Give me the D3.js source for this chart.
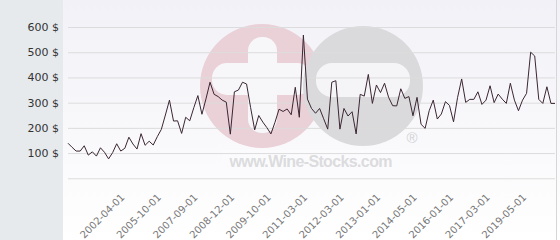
<!DOCTYPE html>
<html>
<head>
<meta charset="utf-8">
<script src="https://cdn.jsdelivr.net/npm/d3@7"></script>
<style>
  body { margin: 0; background: #fff; }
  svg { display: block; }
</style>
</head>
<body>
<svg width="560" height="240"></svg>
<script>
// price per point (121 points, unevenly dated)
const prices = [
  139, 123, 108, 108, 129, 92, 105, 88, 121, 103,
  77, 102, 137, 108, 119, 163, 136, 116, 177, 131,
  147, 132, 165, 194, 251, 310, 227, 228, 178, 242,
  228, 280, 328, 254, 315, 381, 333, 324, 310, 302,
  175, 343, 350, 381, 374, 280, 192, 249, 223, 201,
  176, 222, 274, 265, 275, 252, 361, 242, 568, 314,
  277, 258, 277, 236, 195, 381, 387, 195, 277, 247,
  264, 176, 333, 326, 412, 297, 370, 340, 377, 321,
  288, 287, 355, 317, 324, 248, 321, 214, 198, 268,
  310, 235, 255, 304, 289, 224, 321, 394, 301, 313,
  313, 343, 293, 310, 367, 300, 334, 314, 297, 377,
  310, 268, 310, 337, 500, 485, 313, 297, 363, 297,
  297
];

// x axis: labelled points
const tickIndex = [14, 23, 32, 41, 50, 59, 68, 77, 86, 95, 104, 113];
const tickLabels = [
  "2002-04-01", "2005-10-01", "2007-09-01", "2008-12-01",
  "2009-10-01", "2011-03-01", "2012-03-01", "2013-01-01",
  "2014-05-01", "2016-01-01", "2017-03-01", "2019-05-01"
];

const yTicks = [0, 100, 200, 300, 400, 500, 600];

const svg = d3.select("svg");

const plotLeft = 68, plotRight = 555, plotTop = 27, plotBottom = 178.3;

const x = d3.scaleLinear().domain([0, prices.length - 1]).range([plotLeft, plotRight]);
const y = d3.scaleLinear().domain([0, 600]).range([plotBottom, plotTop]);

const defs = svg.append("defs");
const grad = defs.append("linearGradient")
  .attr("id", "bg")
  .attr("x1", 0).attr("y1", 0).attr("x2", 0).attr("y2", 1);
grad.append("stop").attr("offset", "0%").attr("stop-color", "#f1f1f7");
grad.append("stop").attr("offset", "100%").attr("stop-color", "#ffffff");

// background
svg.append("rect")
  .attr("x", 0).attr("y", 0)
  .attr("width", 560).attr("height", 240)
  .attr("fill", "url(#bg)");

svg.append("rect")
  .attr("x", 0).attr("y", 0)
  .attr("width", 63).attr("height", 240)
  .attr("fill", "#e6eaed");

svg.append("line")
  .attr("x1", 556.5).attr("x2", 556.5)
  .attr("y1", 0).attr("y2", 240)
  .attr("stroke", "#d6d6d6");

// watermark
const wm = svg.append("g").attr("class", "watermark");

wm.append("circle")
  .attr("cx", 262).attr("cy", 86).attr("r", 62)
  .attr("fill", "#ead0d7");
wm.append("rect")
  .attr("x", 248).attr("y", 37)
  .attr("width", 29).attr("height", 96)
  .attr("rx", 14)
  .attr("fill", "#f7f7fa");
wm.append("rect")
  .attr("x", 212).attr("y", 63)
  .attr("width", 100).attr("height", 32)
  .attr("rx", 15)
  .attr("fill", "#f7f7fa");

wm.append("circle")
  .attr("cx", 363).attr("cy", 86).attr("r", 60)
  .attr("fill", "#dadadc");
wm.append("rect")
  .attr("x", 316).attr("y", 63)
  .attr("width", 94).attr("height", 34)
  .attr("rx", 16)
  .attr("fill", "#f5f5f8");

wm.append("rect")
  .attr("x", 222).attr("y", 150)
  .attr("width", 178).attr("height", 26)
  .attr("fill", "#fbfbfd");

wm.append("text")
  .attr("x", 311).attr("y", 167)
  .attr("text-anchor", "middle")
  .attr("textLength", 163)
  .attr("font-family", "Liberation Sans, Arial, sans-serif")
  .attr("font-weight", "bold")
  .attr("font-size", 16)
  .attr("fill", "#dcdcde")
  .text("www.Wine-Stocks.com");

wm.append("text")
  .attr("x", 412).attr("y", 143)
  .attr("text-anchor", "middle")
  .attr("font-family", "Liberation Sans, Arial, sans-serif")
  .attr("font-size", 15)
  .attr("fill", "#d2d2d4")
  .text("®");

// grid lines
const grid = svg.append("g")
  .attr("transform", `translate(${plotLeft},0)`)
  .call(d3.axisLeft(y).tickValues(yTicks).tickSize(-(plotRight - plotLeft)).tickFormat(""));
grid.select(".domain").remove();
grid.selectAll("line").attr("stroke", "#dcdcdc");

// y labels
const yAxis = svg.append("g")
  .attr("transform", "translate(59,0)")
  .call(d3.axisLeft(y).tickValues(yTicks.slice(1)).tickSize(0).tickPadding(0)
    .tickFormat(d => d + " $"));
yAxis.select(".domain").remove();
yAxis.selectAll("text")
  .attr("font-family", "DejaVu Sans, sans-serif")
  .attr("font-size", 11)
  .attr("fill", "#333");

// price line
const line = d3.line()
  .x((_d, _i) => x(_i))
  .y((_d, _i) => y(_d));

svg.append("path")
  .datum(prices)
  .attr("d", line)
  .attr("fill", "none")
  .attr("stroke", "#3b2632")
  .attr("stroke-width", 1)
  .attr("stroke-linejoin", "miter");

// x labels
const xAxis = svg.append("g")
  .attr("transform", "translate(0,198)")
  .call(d3.axisBottom(x).tickValues(tickIndex).tickSize(0)
    .tickFormat((_d, _i) => tickLabels[_i]));
xAxis.select(".domain").remove();
xAxis.selectAll("text")
  .attr("y", 0)
  .attr("dy", 0)
  .attr("text-anchor", "end")
  .attr("transform", "rotate(-45)")
  .attr("font-family", "DejaVu Sans, sans-serif")
  .attr("font-size", 10)
  .attr("fill", "#777");
</script>
</body>
</html>
